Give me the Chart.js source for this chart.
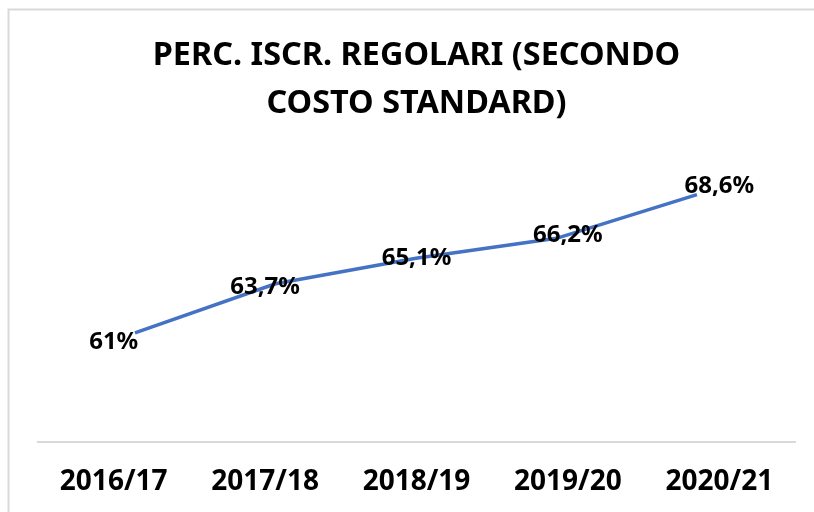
<!DOCTYPE html>
<html>
<head>
<meta charset="utf-8">
<script src="https://cdn.jsdelivr.net/npm/chart.js@4/dist/chart.umd.min.js"></script>
<style>
  html, body { margin: 0; padding: 0; background: #fff; }
  #wrap { width: 814px; height: 512px; }
</style>
</head>
<body>
<div id="wrap"><canvas id="chart" width="814" height="512"></canvas></div>
<script>
/* ---------- data ---------- */
const titleLines = ['PERC. ISCR. REGOLARI (SECONDO', 'COSTO STANDARD)'];
const years      = ['2016/17', '2017/18', '2018/19', '2019/20', '2020/21'];
const percValues = [61, 63.7, 65.1, 66.2, 68.6];

const FONT = "'Noto Sans', 'Open Sans', sans-serif";

/* light grey frame round the chart, like the office export */
const framePlugin = {
  id: 'frame',
  beforeDraw(chart) {
    const ctx = chart.ctx;
    ctx.save();
    ctx.strokeStyle = '#d9d9d9';
    ctx.lineWidth = 2;
    ctx.strokeRect(8.5, 9.5, 900, 600);
    ctx.restore();
  }
};

/* value labels: x from the category axis, y from the label axis */
const valueLabels = {
  id: 'valueLabels',
  afterDatasetsDraw(chart) {
    const ctx = chart.ctx;
    const xs = chart.scales.x, ys = chart.scales.yl;
    ctx.save();
    ctx.font = `bold 24px ${FONT}`;
    ctx.fillStyle = '#000';
    ctx.textAlign = 'center';
    ctx.textBaseline = 'middle';
    percValues.forEach((v, i) => {
      const txt = String(v).replace('.', ',') + '%';
      ctx.fillText(txt, xs.getPixelForValue(i), ys.getPixelForValue(v));
    });
    ctx.restore();
  }
};

new Chart(document.getElementById('chart'), {
  type: 'line',
  data: {
    labels: years,
    datasets: [{
      data: percValues.map((v, i) => ({ x: i, y: v })),
      xAxisID: 'xl',
      yAxisID: 'y',
      borderColor: '#4472C4',
      borderWidth: 3.5,
      pointRadius: 0,
      tension: 0,
      fill: false
    }]
  },
  options: {
    responsive: false,
    animation: false,
    layout: { padding: { left: 38, right: 19, top: 0, bottom: 14 } },
    plugins: {
      legend: { display: false },
      tooltip: { enabled: false },
      title: {
        display: true,
        text: titleLines,
        color: '#000',
        font: { family: FONT, size: 32.4, weight: 'bold', lineHeight: '48px' },
        padding: { top: 32, bottom: 23 }
      }
    },
    scales: {
      x: {
        type: 'category',
        offset: true,
        grid: { display: false, drawTicks: false },
        border: { display: true, color: '#d9d9d9', width: 2 },
        ticks: {
          color: '#000',
          padding: 23,
          maxRotation: 0,
          font: { family: FONT, size: 28, weight: 'bold' }
        },
        afterFit(scale) { scale.height = 56; }
      },
      xl: { type: 'linear', display: false, min: -0.69, max: 4.698 },
      y:  { type: 'linear', display: false, min: 55, max: 71 },
      yl: { type: 'linear', display: false, min: 56.11, max: 70.33 }
    }
  },
  plugins: [framePlugin, valueLabels]
});
</script>
</body>
</html>
